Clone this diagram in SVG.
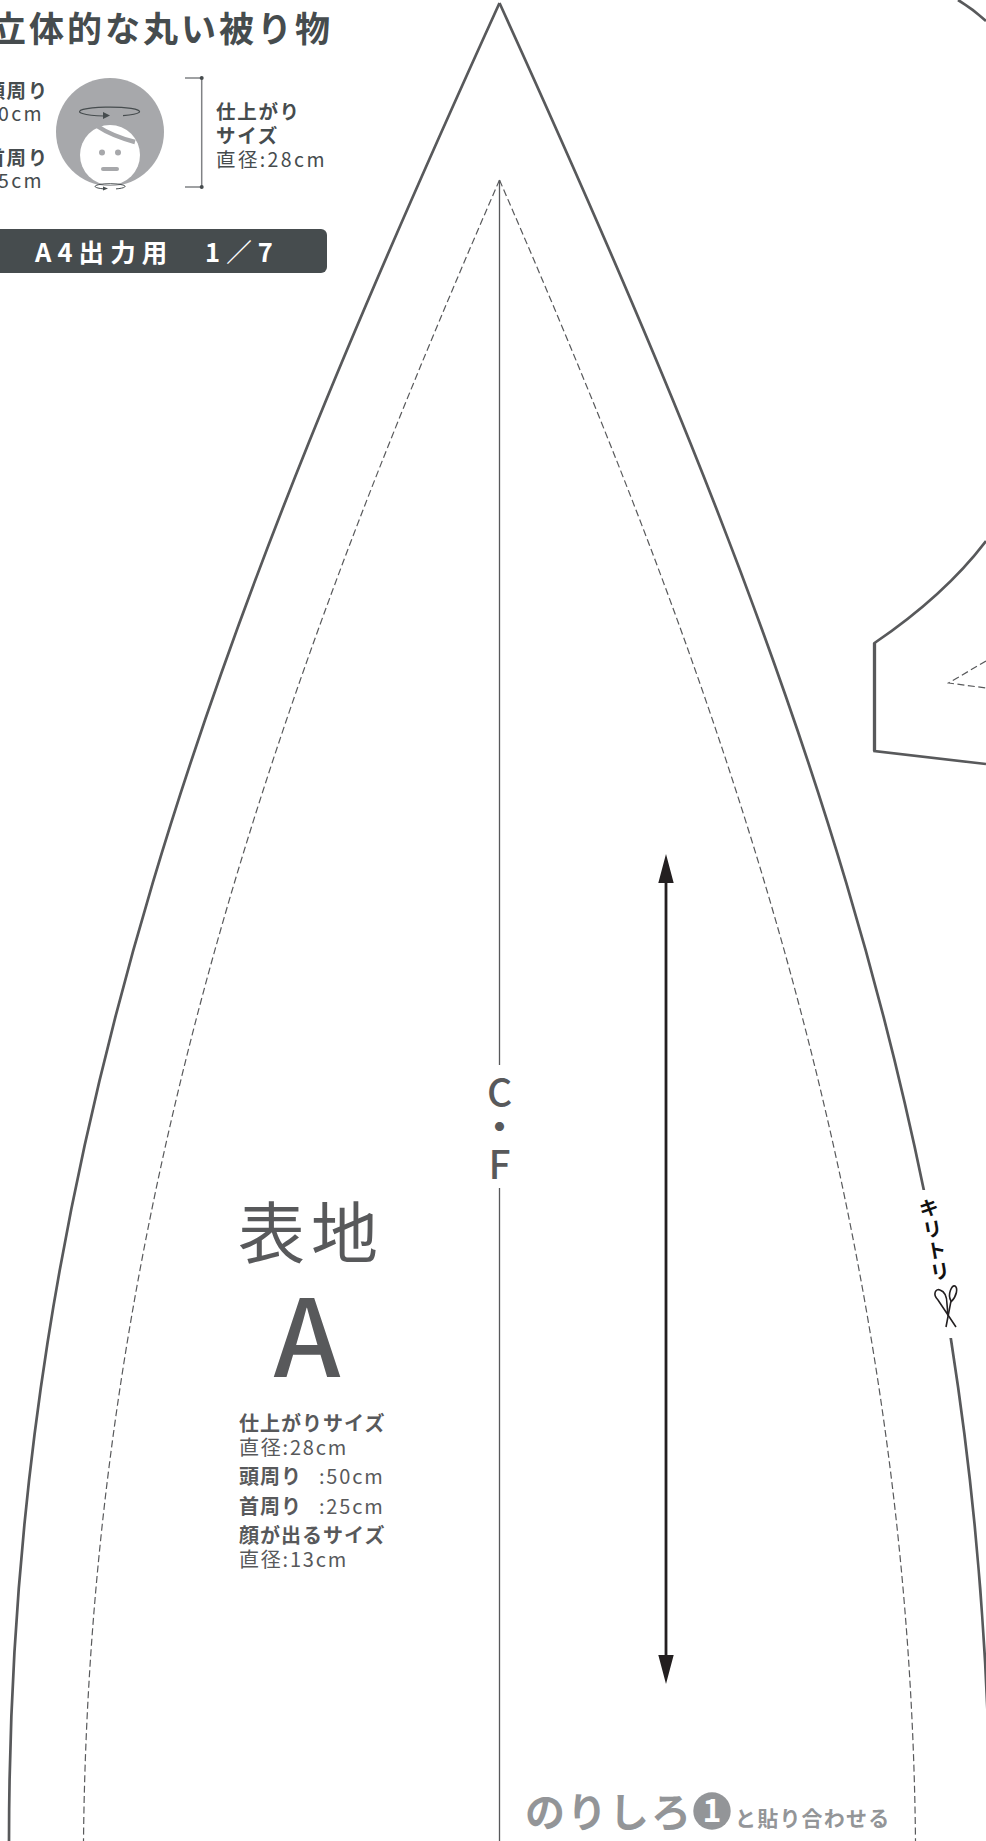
<svg xmlns="http://www.w3.org/2000/svg" width="986" height="1841" viewBox="0 0 986 1841">
<style>
text{font-family:"Noto Sans CJK JP","Noto Sans",sans-serif}
.d{fill:#464c4e}.g{fill:#58595b}.b{font-weight:700}
.t{font-size:19.5px;letter-spacing:1.7px}
.n{font-size:19.5px;letter-spacing:2.4px}
.l{font-size:20px;letter-spacing:1px}
.m{font-size:20px;letter-spacing:1.8px}
.o{fill:none;stroke:#58595b;stroke-width:2.7}
.da{fill:none;stroke:#58595b;stroke-width:1.2;stroke-dasharray:7 3.5}
</style>
<defs><clipPath id="gap"><rect x="0" y="0" width="986" height="1190"/><rect x="0" y="1338" width="986" height="503"/></clipPath></defs>
<rect width="986" height="1841" fill="#fff"/>
<g id="pattern-outline">
<path class="o" d="M499.500,3C229,598 9,1141 9,1841"/>
<path class="o" clip-path="url(#gap)" d="M499.500,3C770,598 990,1141 990,1841"/>
<path class="da" d="M499.500,180C300,640 90,1180 83.500,1841"/>
<path class="da" d="M499.500,180C699,640 909,1180 915.500,1841"/>
<path class="o" d="M958,0Q973,9 986,21"/>
<path class="o" d="M986,541Q945,595 874.500,643V751L986,764"/>
<path d="M874.500,643V751" fill="none" stroke="#58595b" stroke-width="3.300"/>
<path class="da" d="M986,661L948.500,683L986,688"/>
</g>
<g id="cf-line">
<path d="M499.500,180V1065M499.500,1188V1841" fill="none" stroke="#58595b" stroke-width="1.300"/>
<g class="g" text-anchor="middle" font-size="39" font-weight="500"><text x="499.500" y="1107">C</text><text x="499.500" y="1141">・</text><text x="499.500" y="1179">F</text></g>
</g>
<g id="grain-arrow"><path d="M666,880V1658" stroke="#231f20" stroke-width="2.800" fill="none"/><path d="M666,854L673.700,883H658.300ZM666,1684L673.700,1655H658.300Z" fill="#231f20"/></g>
<g id="title"><text class="d b" x="-9" y="42" font-size="35" letter-spacing="3">立体的な丸い被り物</text></g>
<g id="head-icon">
<circle cx="110" cy="132" r="54" fill="#a7a8ab"/>
<circle cx="110" cy="155" r="30" fill="#fff"/>
<path d="M97,126Q112,136 135,142" fill="none" stroke="#a7a8ab" stroke-width="4.500"/>
<circle cx="102" cy="152.500" r="3" fill="#a7a8ab"/><circle cx="118" cy="152.500" r="3" fill="#a7a8ab"/>
<rect x="101" y="167" width="18" height="4" rx="2" fill="#a7a8ab"/>
<path d="M104,116A30,4.500 0 1 1 123,115.600" fill="none" stroke="#464c4e" stroke-width="1.200"/>
<path d="M110,115.500L103,112V119Z" fill="#464c4e"/>
<path d="M103,188.800A15,2.700 0 1 1 116,188.900" fill="none" stroke="#464c4e" stroke-width="1"/>
<path d="M108,188.500L103,186.500V190.500Z" fill="#464c4e"/>
</g>
<g id="head-labels">
<text class="d b t" x="49" y="98" text-anchor="end">頭周り</text><text class="d n" x="44" y="121" text-anchor="end">50cm</text>
<text class="d b t" x="49" y="165" text-anchor="end">首周り</text><text class="d n" x="44" y="188" text-anchor="end">25cm</text>
</g>
<g id="size-bracket">
<path d="M185,78H201.700V187H185" fill="none" stroke="#808285" stroke-width="1.500"/>
<circle cx="201.700" cy="78" r="2" fill="#464c4e"/><circle cx="201.700" cy="187" r="2" fill="#464c4e"/>
<text class="d b t" x="216" y="119">仕上がり</text><text class="d b t" x="216" y="143">サイズ</text><text class="d n" x="216" y="167">直径:28cm</text>
</g>
<g id="banner"><rect x="-10" y="229" width="337" height="44" rx="6" fill="#464c4e"/>
<text x="35" y="262" fill="#fff" class="b" font-size="25.500" letter-spacing="6.100" xml:space="preserve">A4出力用　1／7</text></g>
<g id="part-label">
<text class="g" x="238" y="1258" font-size="67" letter-spacing="6">表地</text>
<text class="g" x="307" y="1377" font-size="107" font-weight="500" text-anchor="middle">A</text>
<text class="g b l" x="239" y="1431">仕上がりサイズ</text>
<text class="g m" x="239" y="1455">直径:28cm</text>
<text class="g b l" x="239" y="1484">頭周り</text><text class="g m" x="319" y="1484">:50cm</text>
<text class="g b l" x="239" y="1514">首周り</text><text class="g m" x="319" y="1514">:25cm</text>
<text class="g b l" x="239" y="1543">顔が出るサイズ</text>
<text class="g m" x="239" y="1567">直径:13cm</text>
</g>
<g id="glue-note" fill="#939598">
<text class="b" x="525" y="1827" font-size="40" letter-spacing="2">のりしろ</text>
<circle cx="712" cy="1811" r="18.700"/>
<text class="b" x="712" y="1822" font-size="32" fill="#fff" text-anchor="middle">1</text>
<text class="b" x="735" y="1826" font-size="21" letter-spacing="1.200">と貼り合わせる</text>
</g>
<g id="cut-mark">
<text transform="translate(927,1198) rotate(-10)" font-size="20" font-weight="700" fill="#111" style="writing-mode:vertical-rl" letter-spacing="1.500">キリトリ</text>
<g fill="none" stroke="#231f20" stroke-width="1.600">
<path d="M956,1327L938,1300C932,1294 936,1288 940,1290C946,1292 947,1298 947,1304L948,1316"/>
<path d="M946,1327L951,1301C947,1294 952,1285 955,1286C958,1288 957,1296 951,1302"/>
</g></g>
</svg>
